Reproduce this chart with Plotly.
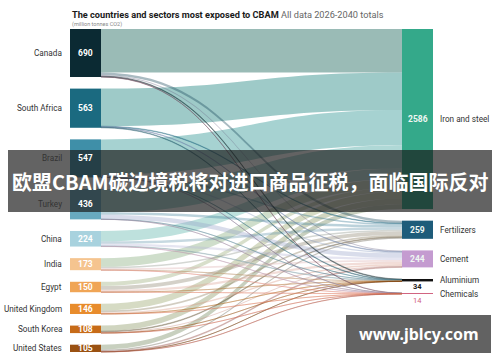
import plotly.graph_objects as go

# ---------------- data ----------------
countries = ["Canada", "South Africa", "Brazil", "Turkey", "China", "India",
             "Egypt", "United Kingdom", "South Korea", "United States"]
country_totals = [690, 563, 547, 436, 224, 173, 150, 146, 108, 105]
sectors = ["Iron and steel", "Fertilizers", "Cement", "Aluminium", "Chemicals"]
sector_totals = [2586, 259, 244, 34, 14]

# estimated flows (million tonnes CO2), one list per sector, in country order
flow_iron = [625, 540, 505, 335, 150, 125, 60, 97, 81, 70]
flow_fert = [35, 8, 20, 33, 35, 20, 55, 25, 10, 20]
flow_cement = [17, 7, 18, 65, 30, 25, 33, 22, 15, 12]
flow_alu = [10, 8, 3, 2, 6, 2, 1, 1, 1, 1]
flow_chem = [3, 0, 1, 1, 3, 1, 1, 1, 1, 2]
flows = [flow_iron, flow_fert, flow_cement, flow_alu, flow_chem]

country_colors = ["#0b2a33", "#1b6a80", "#3f8fa8", "#68a9bf", "#a8d2de",
                  "#f5c48f", "#f0a556", "#e88c2c", "#c76b18", "#9a5112"]
sector_colors = ["#34a98a", "#1e5c7a", "#c49bd0", "#111111", "#d0607e"]

title_bold = "The countries and sectors most exposed to CBAM"
title_rest = " All data 2026-2040 totals"
subtitle = "(million tonnes CO2)"
banner_text = "欧盟CBAM碳边境税将对进口商品征税，面临国际反对"
watermark_text = "www.jblcy.com"

# ---------------- geometry ----------------
WIDTH, HEIGHT = 500, 362
ML, MR, MT, MB = 70, 67, 29, 10
PW, PH = WIDTH - ML - MR, HEIGHT - MT - MB
THICK = 31
PAD = 11.6

nC, nS = len(countries), len(sectors)
sector_sums = [sum(f) for f in flows]
ky = (PH - (nC - 1) * PAD) / sum(country_totals)


def centers(values):
    out, cum = [], 0.0
    for i, v in enumerate(values):
        out.append(cum * ky + i * PAD + v * ky / 2)
        cum += v
    return out


left_c = centers(country_totals)
right_c = centers(sector_sums)


def ax(px):
    return (px - ML) / PW


def ay(py):
    return 1 - (py - MT) / PH


def hex_rgb(h):
    h = h.lstrip("#")
    return tuple(int(h[i:i + 2], 16) for i in (0, 2, 4))


def blend(c1, c2, a, w=0.5):
    r1, r2 = hex_rgb(c1), hex_rgb(c2)
    m = [int(x * w + y * (1 - w)) for x, y in zip(r1, r2)]
    return f"rgba({m[0]},{m[1]},{m[2]},{a})"


# ---------------- sankey ----------------
src, tgt, val, lcol = [], [], [], []
for s in range(nS):
    for c in range(nC):
        v = flows[s][c]
        if v > 0:
            src.append(c)
            tgt.append(nC + s)
            val.append(v)
            w = 0.75 if s == 3 else 0.5
            a = 0.45 if v > 100 else 0.36
            lcol.append(blend(country_colors[c], sector_colors[s], a, w))

node_x = [(THICK / 2) / PW] * nC + [1 - (THICK / 2) / PW] * nS
node_y = [c / PH for c in left_c] + [c / PH for c in right_c]

fig = go.Figure(go.Sankey(
    arrangement="fixed",
    node=dict(
        label=countries + sectors,
        color=country_colors + sector_colors,
        thickness=THICK,
        pad=PAD,
        line=dict(width=0),
        x=node_x,
        y=node_y,
    ),
    textfont=dict(color="rgba(0,0,0,0)", size=1),
    link=dict(source=src, target=tgt, value=val, color=lcol, line=dict(width=0)),
    hoverinfo="none",
))

ann = []
lab_font = dict(family="Roboto", size=8.2, color="#333333")
val_font = dict(family="Roboto", size=8.5, color="#ffffff")

for i, name in enumerate(countries):
    cy = MT + left_c[i]
    ann.append(dict(x=ax(64), y=ay(cy), text=name, xanchor="right", yanchor="middle",
                    showarrow=False, font=lab_font))
    ann.append(dict(x=ax(ML + THICK / 2), y=ay(cy), text=f"<b>{country_totals[i]}</b>",
                    xanchor="center", yanchor="middle", showarrow=False, font=val_font))

rx_node = ML + PW - THICK / 2
for j, name in enumerate(sectors):
    cy = MT + right_c[j]
    ann.append(dict(x=ax(438), y=ay(cy), text=name, xanchor="left", yanchor="middle",
                    showarrow=False, font=lab_font))
    if sector_sums[j] * ky > 8:
        ann.append(dict(x=ax(rx_node), y=ay(cy), text=f"<b>{sector_totals[j]}</b>",
                        xanchor="center", yanchor="middle", showarrow=False,
                        font=dict(family="Roboto", size=8.5, color="#eef7f3")))
    else:
        col = "#222222" if j == 3 else sector_colors[j]
        ann.append(dict(x=ax(rx_node), y=ay(cy + 6.5),
                        text=f"<b>{sector_totals[j]}</b>" if j == 3 else f"{sector_totals[j]}",
                        xanchor="center", yanchor="middle", showarrow=False,
                        font=dict(family="Roboto", size=7.5, color=col)))

ann.append(dict(x=ax(ML), y=ay(15), xanchor="left", yanchor="middle", showarrow=False,
                text=f"<b>{title_bold}</b><span style='color:#666666'>{title_rest}</span>",
                font=dict(family="Roboto", size=9.2, color="#1a1a1a")))
ann.append(dict(x=ax(ML), y=ay(24), xanchor="left", yanchor="middle", showarrow=False,
                text=subtitle, font=dict(family="Roboto", size=5.5, color="#888888")))

# overlay banner and watermark
ann.append(dict(x=ax(250), y=ay(181), xanchor="center", yanchor="middle", showarrow=False,
                text=f"<b>{banner_text}</b>",
                font=dict(family="Noto Sans CJK SC", size=20, color="#ffffff")))
ann.append(dict(x=ax(418.5), y=ay(334), xanchor="center", yanchor="middle", showarrow=False,
                text=f"<b>{watermark_text}</b>",
                font=dict(family="Noto Sans", size=16, color="#ffffff")))

shapes = [
    dict(type="rect", xref="paper", yref="paper", x0=ax(8), x1=ax(492), y0=ay(150), y1=ay(212),
         fillcolor="rgba(25,25,25,0.68)", line=dict(width=0), layer="above"),
    dict(type="rect", xref="paper", yref="paper", x0=ax(346), x1=ax(491), y0=ay(315), y1=ay(353),
         fillcolor="rgba(70,70,70,0.85)", line=dict(width=0), layer="above"),
]

fig.update_layout(
    width=WIDTH, height=HEIGHT,
    margin=dict(l=ML, r=MR, t=MT, b=MB),
    paper_bgcolor="#ffffff",
    plot_bgcolor="#ffffff",
    annotations=ann,
    shapes=shapes,
    showlegend=False,
)

fig.write_html(
    "out.html",
    config={"displayModeBar": False},
    post_script="document.body.style.margin='0';document.body.style.overflow='hidden';",
)
